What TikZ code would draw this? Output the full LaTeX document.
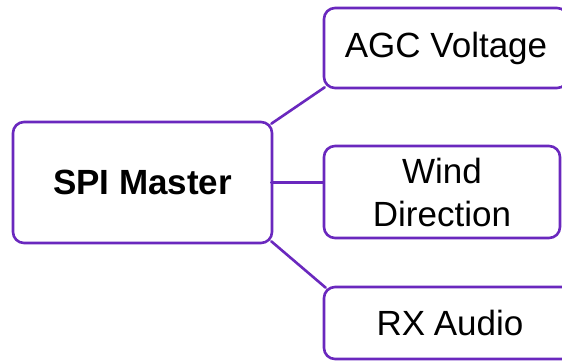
\documentclass[tikz,border=0pt]{standalone}
\usepackage{fontspec}
\setmainfont{Liberation Sans}
\definecolor{linepurple}{HTML}{6A28BE}
\begin{document}
\begin{tikzpicture}[x=1pt,y=-1pt,
  sketch/.style={draw=linepurple, line width=2.6pt, line join=round, line cap=round},
  sketchbox/.style={sketch, rounded corners=11pt, inner sep=0pt,
    font=\fontsize{35}{43}\selectfont, align=center},
  link/.style={sketch}]
\useasboundingbox (0,0) rectangle (562,360);
\fill[white] (0,0) rectangle (562,360);
\clip (0,0) rectangle (562,360);

% main block and its three leaves
\node[sketchbox, minimum width=259pt, minimum height=121pt] (spi) at (142.5,182.5) {\bfseries SPI Master};
\node[sketchbox, minimum width=244pt, minimum height=80pt] (agc) at (446,48) {AGC Voltage};
\node[sketchbox, minimum width=236pt, minimum height=92pt] (wind) at (442,192) {Wind\\Direction};
\node[sketchbox, minimum width=252pt, minimum height=72pt] (rx) at (450,323) {RX\kern-1pt\ Audio};

% connectors
\draw[link] ([xshift=-2pt,yshift=-3pt]spi.north east) -- ([xshift=2pt,yshift=2pt]agc.south west);
\draw[link] ([xshift=-2pt]spi.east) -- (wind.west |- spi.east);
\draw[link] ([xshift=-2pt,yshift=3pt]spi.south east) -- ([xshift=3pt,yshift=-2pt]rx.north west);
\end{tikzpicture}
\end{document}
